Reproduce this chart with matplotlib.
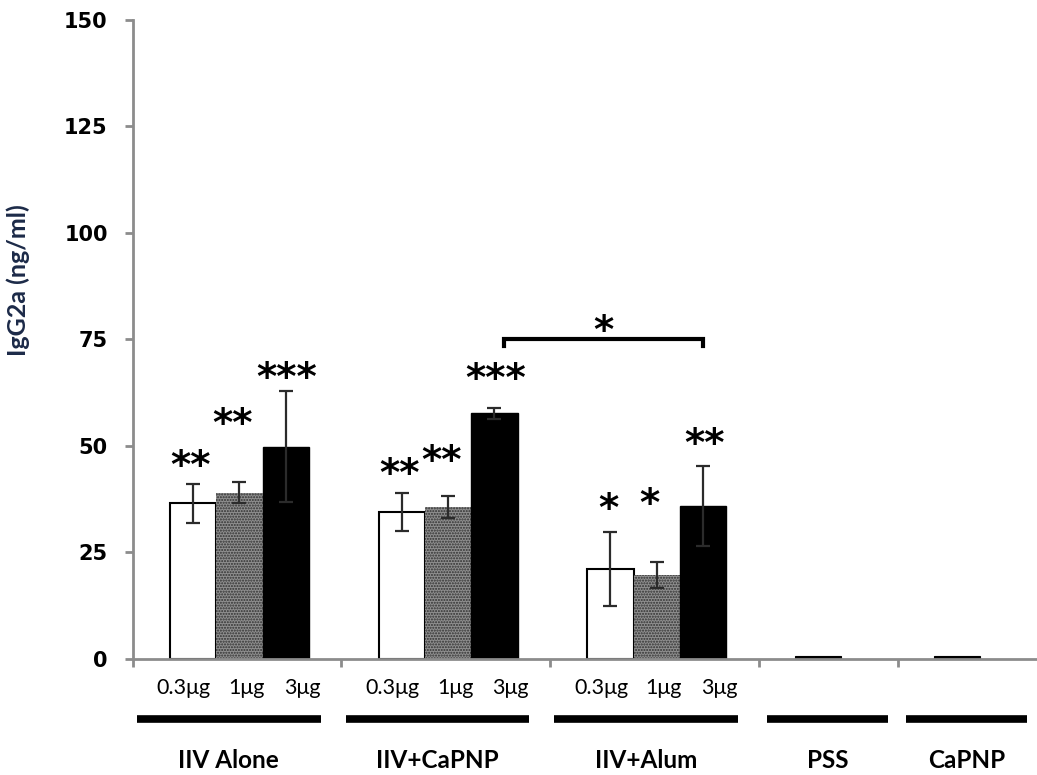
import numpy as np
import matplotlib
matplotlib.use("Agg")
import matplotlib.pyplot as plt
from matplotlib.lines import Line2D
import matplotlib.transforms as mtransforms

groups = ["IIV Alone", "IIV+CaPNP", "IIV+Alum", "PSS", "CaPNP"]
doses = ["0.3μg", "1μg", "3μg"]

# means (ng/ml) and SEM, per dose, for the three vaccine groups
means_03 = [36.5, 34.5, 21.1]
means_1 = [39.0, 35.7, 19.7]
means_3 = [49.8, 57.7, 35.9]
err_03 = [4.6, 4.5, 8.7]
err_1 = [2.5, 2.6, 3.1]
err_3 = [13.0, 1.3, 9.4]
stars_03 = ["**", "**", "*"]
stars_1 = ["**", "**", "*"]
stars_3 = ["***", "***", "**"]
star_y_03 = [47.4, 45.5, 37.3]
star_y_1 = [57.3, 48.6, 38.5]
star_y_3 = [68.0, 67.8, 52.6]

# controls
ctrl_means = [0.7, 0.7]

# group comparison bracket
bracket_y = 75.0
bracket_label = "*"

fig = plt.figure(figsize=(10.37, 7.75), dpi=100)
ax = fig.add_axes([0.128, 0.1497, 0.872, 0.8245])

axis_gray = "#8c8c8c"
bw = 1.0
widths = [4.5, 4.5, 4.5, 3.0, 3.0]
starts = np.concatenate([[0], np.cumsum(widths)[:-1]])
offs = [1.3, 2.3, 3.3]
star_dx = [-0.05, -0.15, 0.02]

means = [means_03, means_1, means_3]
errs = [err_03, err_1, err_3]
stars = [stars_03, stars_1, stars_3]
star_ys = [star_y_03, star_y_1, star_y_3]
styles = [dict(color="white", edgecolor="black", linewidth=1.5),
          dict(color="#8f8f8f", edgecolor="#303030", hatch="......", linewidth=0),
          dict(color="black", edgecolor="black", linewidth=1.0)]

plt.rcParams["hatch.linewidth"] = 1.0
for d in range(3):
    xs = starts[:3] + offs[d]
    ax.bar(xs, means[d], width=bw, zorder=2, **styles[d])
    ax.errorbar(xs, means[d], yerr=errs[d], fmt="none", ecolor="#2b2b2b",
                elinewidth=1.6, capsize=5, capthick=1.6, zorder=3)
    for x, s, sy in zip(xs, stars[d], star_ys[d]):
        ax.annotate(s, (x + star_dx[d], sy), xytext=(0, -15), textcoords="offset points",
                    ha="center", va="baseline", fontsize=28, fontweight="bold")

# control bars (drawn as thin marks near zero)
ctrl_x = starts[3:] + 1.28
ax.bar(ctrl_x, ctrl_means, width=bw, color="black", edgecolor="black",
       linewidth=0.8, zorder=2)

# bracket between IIV+CaPNP 3μg and IIV+Alum 3μg
bx0 = starts[1] + 3.5
bx1 = starts[2] + 3.3
ax.plot([bx0, bx0, bx1, bx1], [bracket_y - 1.5, bracket_y, bracket_y, bracket_y - 1.5],
        color="black", linewidth=3, solid_joinstyle="miter", zorder=3)
ax.annotate(bracket_label, ((bx0 + bx1) / 2, bracket_y + 4), xytext=(0, -15),
            textcoords="offset points", ha="center", va="baseline",
            fontsize=28, fontweight="bold")

ax.set_xlim(0, sum(widths))
ax.set_ylim(0, 150)
ax.set_yticks(np.arange(0, 151, 25))
ax.set_yticklabels([str(v) for v in range(0, 151, 25)], fontsize=15, fontweight="bold")
ax.set_xticks([0] + list(np.cumsum(widths)[:-1]))
ax.set_xticklabels([])
for s in ["top", "right"]:
    ax.spines[s].set_visible(False)
for s in ["left", "bottom"]:
    ax.spines[s].set_color(axis_gray)
    ax.spines[s].set_linewidth(2)
ax.tick_params(axis="both", colors=axis_gray, width=2, length=6, direction="out")
ax.tick_params(axis="y", labelcolor="black", pad=12)
ax.set_ylabel("IgG2a (ng/ml)", fontsize=18, fontweight="bold", color="#1c2a48",
              family="Lato")
ax.yaxis.set_label_coords(-0.114, 0.593)

trans = mtransforms.blended_transform_factory(ax.transData, fig.transFigure)
lab_offs = [1.1, 2.45, 3.65]
for g in range(3):
    for d in range(3):
        ax.text(starts[g] + lab_offs[d], 0.112, doses[d], transform=trans,
                ha="center", va="center", fontsize=15.5, family="Lato")
pads = [(0.09, 0.45), (0.09, 0.45), (0.09, 0.45), (0.18, 0.22), (0.18, 0.22)]
for g in range(5):
    x0 = starts[g] + pads[g][0]
    x1 = starts[g] + widths[g] - pads[g][1]
    ax.add_line(Line2D([x0, x1], [0.072, 0.072], transform=trans, color="black",
                       linewidth=5.5, solid_capstyle="butt", clip_on=False))
    ax.text((x0 + x1) / 2, 0.019, groups[g], transform=trans, ha="center",
            va="center", fontsize=17.5, fontweight="bold", family="Lato")

fig.savefig("out.png", dpi=100)
